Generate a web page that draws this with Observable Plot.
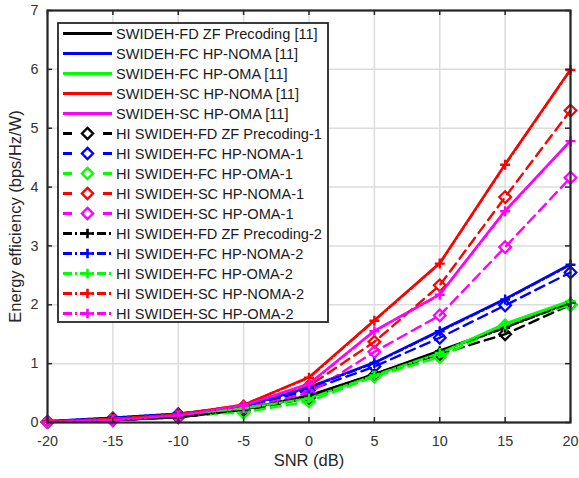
<!DOCTYPE html>
<html><head><meta charset="utf-8">
<script src="https://cdn.jsdelivr.net/npm/d3@7"></script>
<script src="https://cdn.jsdelivr.net/npm/@observablehq/plot@0.6"></script>
<style>body{margin:0;background:#fff}#chart{width:579px;height:478px}</style>
</head><body><div id="chart"></div>
<script>
// ---- data ----
const snr = [-20, -15, -10, -5, 0, 5, 10, 15, 20];
const xTicks = [-20, -15, -10, -5, 0, 5, 10, 15, 20];
const yTicks = [0, 1, 2, 3, 4, 5, 6, 7];

const seriesNames = [
  "SWIDEH-FD ZF Precoding [11]",
  "SWIDEH-FC HP-NOMA [11]",
  "SWIDEH-FC HP-OMA [11]",
  "SWIDEH-SC HP-NOMA [11]",
  "SWIDEH-SC HP-OMA [11]",
  "HI SWIDEH-FD ZF Precoding-1",
  "HI SWIDEH-FC HP-NOMA-1",
  "HI SWIDEH-FC HP-OMA-1",
  "HI SWIDEH-SC HP-NOMA-1",
  "HI SWIDEH-SC HP-OMA-1",
  "HI SWIDEH-FD ZF Precoding-2",
  "HI SWIDEH-FC HP-NOMA-2",
  "HI SWIDEH-FC HP-OMA-2",
  "HI SWIDEH-SC HP-NOMA-2",
  "HI SWIDEH-SC HP-OMA-2"
];

const fdZf   = [0.01, 0.04, 0.09, 0.22, 0.46, 0.82, 1.22, 1.62, 2.05];
const fcNoma = [0.02, 0.08, 0.15, 0.27, 0.60, 1.02, 1.56, 2.10, 2.69];
const fcOma  = [0.01, 0.06, 0.13, 0.25, 0.42, 0.80, 1.18, 1.68, 2.07];
const scNoma = [0.02, 0.06, 0.14, 0.30, 0.77, 1.74, 2.71, 4.39, 6.00];
const scOma  = [0.01, 0.04, 0.12, 0.29, 0.66, 1.56, 2.18, 3.60, 4.79];

const hi1FdZf   = [0.01, 0.04, 0.09, 0.20, 0.42, 0.80, 1.16, 1.50, 2.00];
const hi1FcNoma = [0.01, 0.07, 0.14, 0.26, 0.55, 0.95, 1.44, 1.99, 2.55];
const hi1FcOma  = [0.01, 0.05, 0.12, 0.17, 0.36, 0.78, 1.11, 1.65, 2.00];
const hi1ScNoma = [0.01, 0.05, 0.12, 0.27, 0.62, 1.37, 2.33, 3.83, 5.30];
const hi1ScOma  = [0.01, 0.04, 0.10, 0.24, 0.50, 1.20, 1.82, 2.98, 4.16];

const hi2FdZf   = [0.01, 0.04, 0.09, 0.22, 0.45, 0.82, 1.21, 1.61, 2.04];
const hi2FcNoma = [0.02, 0.08, 0.15, 0.27, 0.59, 1.01, 1.55, 2.09, 2.68];
const hi2FcOma  = [0.01, 0.06, 0.13, 0.24, 0.41, 0.80, 1.18, 1.67, 2.06];
const hi2ScNoma = [0.02, 0.06, 0.14, 0.30, 0.76, 1.73, 2.70, 4.38, 5.99];
const hi2ScOma  = [0.01, 0.04, 0.12, 0.29, 0.65, 1.55, 2.17, 3.59, 4.78];

const seriesValues = [fdZf, fcNoma, fcOma, scNoma, scOma,
  hi1FdZf, hi1FcNoma, hi1FcOma, hi1ScNoma, hi1ScOma,
  hi2FdZf, hi2FcNoma, hi2FcOma, hi2ScNoma, hi2ScOma];

// ---- styles ----
const palette = ["#000000", "#0000ff", "#00ff00", "#ff0000", "#ff00ff"];
const groupStyle = [
  {dash: null, symbol: null},
  {dash: "10,6", symbol: "diamond2"},
  {dash: "9,3,2,3", symbol: "plus"}
];
const font = "'Liberation Sans', Arial, Helvetica, sans-serif";
const textColor = "#262626";

const series = seriesNames.map((name, i) => ({
  name,
  color: palette[i % 5],
  style: groupStyle[Math.floor(i / 5)],
  rows: snr.map((x, j) => ({x, y: seriesValues[i][j]}))
}));

const frameW = 579 - 47 - 9, frameH = 478 - 10 - 56;

const seriesMarks = series.flatMap(s => {
  const m = [Plot.line(s.rows, {x: "x", y: "y", stroke: s.color, strokeWidth: 2.4,
    strokeDasharray: s.style.dash || undefined})];
  if (s.style.symbol === "diamond2")
    m.push(Plot.dot(s.rows, {x: "x", y: "y", symbol: "diamond2", r: 5.3, stroke: s.color, strokeWidth: 2.2, fill: "none"}));
  if (s.style.symbol === "plus")
    m.push(Plot.dot(s.rows, {x: "x", y: "y", symbol: "plus", r: 3.3, stroke: s.color, strokeWidth: 2.4}));
  return m;
});

// legend mark (drawn inside the svg)
function legendMark(index, scales, values, dims) {
  const g = d3.create("svg:g").attr("text-anchor", "start");
  const bx = 58, by = 23, bw = 270, bh = 299, rowH = 20, first = 33.5;
  g.append("rect").attr("x", bx).attr("y", by).attr("width", bw).attr("height", bh)
    .attr("fill", "white").attr("stroke", "#262626").attr("stroke-width", 1.8);
  series.forEach((s, i) => {
    const cy = first + i * rowH;
    const row = g.append("g");
    const line = row.append("line").attr("x1", 63).attr("x2", 112).attr("y1", cy).attr("y2", cy)
      .attr("stroke", s.color).attr("stroke-width", 2.8);
    if (s.style.symbol === "diamond2") line.attr("stroke-dasharray", "9,31");
    if (s.style.symbol === "plus") line.attr("stroke-dasharray", "9,3,2,3");
    if (s.style.symbol === "diamond2")
      row.append("path").attr("d", d3.symbol(d3.symbolDiamond2, Math.PI * 25)())
        .attr("transform", `translate(87.5,${cy})`).attr("fill", "none").attr("stroke", s.color).attr("stroke-width", 2.4);
    if (s.style.symbol === "plus")
      row.append("path").attr("d", d3.symbol(d3.symbolPlus, Math.PI * 3.2 * 3.2)())
        .attr("transform", `translate(87.5,${cy})`).attr("fill", "none").attr("stroke", s.color).attr("stroke-width", 2.6);
    row.append("text").attr("x", 116).attr("y", cy).attr("dy", "0.35em")
      .attr("text-anchor", "start")
      .attr("fill", "#1a1a1a").attr("font-size", "14.6px").attr("font-family", font).text(s.name);
  });
  return g.node();
}

const chart = Plot.plot({
  width: 579, height: 478,
  marginLeft: 47, marginRight: 9, marginTop: 10, marginBottom: 56,
  style: {fontFamily: font, fontSize: "14.4px", color: textColor, background: "white"},
  x: {domain: [-20, 20]},
  y: {domain: [0, 7]},
  marks: [
    Plot.gridX(xTicks, {stroke: "#dcdcdc", strokeOpacity: 1, strokeWidth: 1.5}),
    Plot.gridY(yTicks, {stroke: "#dcdcdc", strokeOpacity: 1, strokeWidth: 1.5}),
    ...seriesMarks,
    // inward ticks on all sides
    Plot.tickX(xTicks, {x: d => d, insetTop: frameH - 5, stroke: textColor, strokeWidth: 1.5}),
    Plot.tickX(xTicks, {x: d => d, insetBottom: frameH - 5, stroke: textColor, strokeWidth: 1.5}),
    Plot.tickY(yTicks, {y: d => d, insetRight: frameW - 5, stroke: textColor, strokeWidth: 1.5}),
    Plot.tickY(yTicks, {y: d => d, insetLeft: frameW - 5, stroke: textColor, strokeWidth: 1.5}),
    Plot.frame({stroke: textColor, strokeWidth: 2.2}),
    Plot.axisX(xTicks, {tickSize: 0, tickPadding: 13, label: null, fill: "#333", tickFormat: d => String(d)}),
    Plot.axisY(yTicks, {tickSize: 0, tickPadding: 9, label: null, fill: "#333", tickFormat: d => String(d)}),
    Plot.text(["SNR (dB)"], {frameAnchor: "bottom", dy: 43, fontSize: 16.5, fill: textColor, textAnchor: "middle"}),
    Plot.text(["Energy efficiency (bps/Hz/W)"], {frameAnchor: "left", dx: -32, rotate: -90, fontSize: 16.5, fill: textColor, textAnchor: "middle"}),
    legendMark
  ]
});
document.getElementById("chart").append(chart);
</script>
</body></html>
